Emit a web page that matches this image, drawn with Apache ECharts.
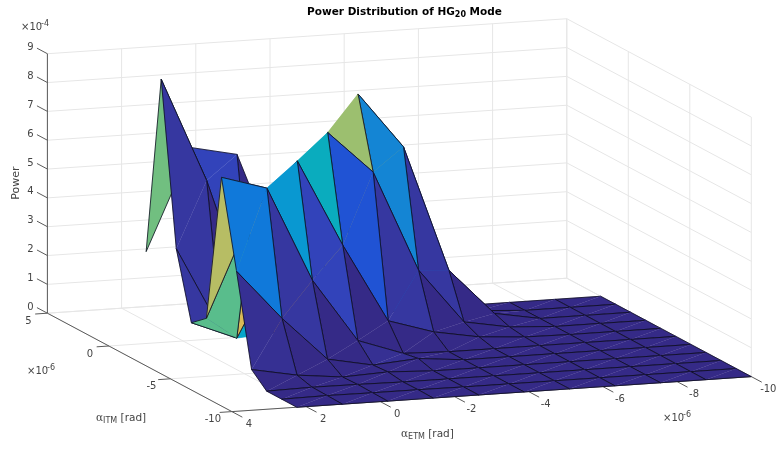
<!DOCTYPE html>
<html>
<head>
    <meta charset="UTF-8">
    <script src="https://cdn.jsdelivr.net/npm/echarts@6/dist/echarts.min.js"></script>
    <style>
        html,body{margin:0;padding:0;background:#fff;}
        #main{width:781px;height:450px;}
    </style>
</head>
<body>
<div id="main"></div>
<script>
// grid of the surface, rad x 1e-6
var etmValues = [2.25, 1.025, -0.2, -1.425, -2.65, -3.875, -5.1, -6.325, -7.55, -8.775, -10];
var itmValues = [-10, -8.775, -7.55, -6.325, -5.1, -3.875, -2.65, -1.425, -0.2, 1.025, 2.25];

// power x 1e-4, one row per etmValues entry, one column per itmValues entry
var power0 = [0, 0, 0, 0.47, 3.6, 6.58, 1.41, 0.98, 3.27, 8.87, 2.61];
var power1 = [0, 0.02, 0.03, 0.17, 1.86, 6.1, 4.95, 0.34, 0.3, 5.25, 6.11];
var power2 = [0, 0.01, 0.02, 0, 0.34, 2.8, 6.66, 3.2, 0.1, 0.6, 5.77];
var power3 = [0, 0.01, 0, 0.07, 0.03, 0.6, 3.63, 7.26, 0.3, 0.1, 1.75];
var power4 = [0, 0, 0, 0, 0.15, 0.05, 0.9, 5.78, 8.21, 0.3, 0.3];
var power5 = [0, 0, 0, 0, 0, 0, 0.41, 2.27, 6.27, 0.3, 0.1];
var power6 = [0, 0, 0, 0, 0, 0, 0.13, 0.37, 1.88, 0.1, 0];
var power7 = [0, 0, 0, 0, 0, 0, 0.02, 0.09, 0.28, 0.1, 0];
var power8 = [0, 0, 0, 0, 0, 0, 0, 0, 0, 0, 0];
var power9 = [0, 0, 0, 0, 0, 0, 0, 0, 0, 0, 0];
var power10 = [0, 0, 0, 0, 0, 0, 0, 0, 0, 0, 0];
var powerRows = [power0, power1, power2, power3, power4, power5, power6, power7, power8, power9, power10];

var etmTicks = [4, 2, 0, -2, -4, -6, -8, -10];
var itmTicks = [5, 0, -5, -10];
var powerTicks = [0, 1, 2, 3, 4, 5, 6, 7, 8, 9];

// parula colormap
var parula = [
    [0.2081,0.1663,0.5292],[0.2116,0.1898,0.5777],[0.2123,0.2138,0.6270],[0.2081,0.2386,0.6771],
    [0.1959,0.2645,0.7279],[0.1707,0.2919,0.7792],[0.1253,0.3242,0.8303],[0.0591,0.3598,0.8683],
    [0.0117,0.3875,0.8820],[0.0060,0.4086,0.8828],[0.0165,0.4266,0.8786],[0.0329,0.4430,0.8720],
    [0.0498,0.4586,0.8641],[0.0629,0.4737,0.8554],[0.0723,0.4887,0.8467],[0.0779,0.5040,0.8384],
    [0.0793,0.5200,0.8312],[0.0749,0.5375,0.8263],[0.0641,0.5570,0.8240],[0.0488,0.5772,0.8228],
    [0.0343,0.5966,0.8199],[0.0265,0.6137,0.8135],[0.0239,0.6287,0.8038],[0.0231,0.6418,0.7913],
    [0.0228,0.6535,0.7768],[0.0267,0.6642,0.7607],[0.0384,0.6743,0.7436],[0.0590,0.6838,0.7254],
    [0.0843,0.6928,0.7062],[0.1133,0.7015,0.6859],[0.1453,0.7098,0.6646],[0.1801,0.7177,0.6424],
    [0.2178,0.7250,0.6193],[0.2586,0.7317,0.5954],[0.3022,0.7376,0.5712],[0.3482,0.7424,0.5473],
    [0.3953,0.7459,0.5244],[0.4420,0.7481,0.5033],[0.4871,0.7491,0.4840],[0.5300,0.7491,0.4661],
    [0.5709,0.7485,0.4494],[0.6099,0.7473,0.4337],[0.6473,0.7456,0.4188],[0.6834,0.7435,0.4044],
    [0.7184,0.7411,0.3905],[0.7525,0.7384,0.3768],[0.7858,0.7356,0.3633],[0.8185,0.7327,0.3498],
    [0.8507,0.7299,0.3360],[0.8824,0.7274,0.3217],[0.9139,0.7258,0.3063],[0.9450,0.7261,0.2886],
    [0.9739,0.7314,0.2666],[0.9938,0.7455,0.2403],[0.9990,0.7653,0.2164],[0.9955,0.7861,0.1967],
    [0.9880,0.8066,0.1794],[0.9789,0.8271,0.1633],[0.9697,0.8481,0.1475],[0.9626,0.8705,0.1309],
    [0.9589,0.8949,0.1132],[0.9598,0.9218,0.0948],[0.9661,0.9514,0.0755],[0.9763,0.9831,0.0538]
];

var zMax = 8.87;
var edgeColor = '#0c0c20';
var gridColor = '#e6e6e6';
var axisColor = '#5a5a5a';
var textColor = '#444444';
var fontName = '"DejaVu Sans"';

// fixed view of the 3d box (orthographic), returns plot coordinates
function project(e, i, p) {
    return [
        47.4 + (4 - e) * 37.1 + (5 - i) * 12.3,
        313.2 - (4 - e) * 2.5 + (5 - i) * 6.56 - p * 28.83
    ];
}

function colorOf(p) {
    var k = Math.floor(p / zMax * parula.length);
    var c = parula[Math.max(0, Math.min(parula.length - 1, k))];
    return 'rgb(' + Math.round(c[0] * 255) + ',' + Math.round(c[1] * 255) + ',' + Math.round(c[2] * 255) + ')';
}

// walls and floor
var wallLines = [];
powerTicks.forEach(function (p) {
    wallLines.push([[4, 5, p], [-10, 5, p]]);
    wallLines.push([[-10, 5, p], [-10, -10, p]]);
});
etmTicks.forEach(function (e) {
    wallLines.push([[e, 5, 0], [e, 5, 9]]);
    wallLines.push([[e, 5, 0], [e, -10, 0]]);
});
itmTicks.forEach(function (i) {
    wallLines.push([[-10, i, 0], [-10, i, 9]]);
    wallLines.push([[4, i, 0], [-10, i, 0]]);
});

// axis lines and ticks, drawn under the surface
var axisLines = [
    [[4, 5, 0], [4, 5, 9]],
    [[4, 5, 0], [4, -10, 0]],
    [[4, -10, 0], [-10, -10, 0]]
];
powerTicks.forEach(function (p) { axisLines.push([[4, 5, p], [4, 5.85, p]]); });
itmTicks.forEach(function (i) { axisLines.push([[4, i, 0], [4.33, i, 0]]); });
etmTicks.forEach(function (e) { axisLines.push([[e, -10, 0], [e, -10.85, 0]]); });

// surface cells, back to front
var cells = [];
for (var a = etmValues.length - 2; a >= 0; a--) {
    for (var b = itmValues.length - 2; b >= 0; b--) {
        cells.push([a, b]);
    }
}

function node(api, a, b) {
    return api.coord(project(etmValues[a], itmValues[b], powerRows[a][b]));
}

function lineItem(api, seg, color, width) {
    var p1 = api.coord(project(seg[0][0], seg[0][1], seg[0][2]));
    var p2 = api.coord(project(seg[1][0], seg[1][1], seg[1][2]));
    return {
        type: 'line', silent: true,
        shape: {x1: p1[0], y1: p1[1], x2: p2[0], y2: p2[1]},
        style: {stroke: color, lineWidth: width}
    };
}

function renderWall(params, api) {
    return lineItem(api, wallLines[params.dataIndex], gridColor, 1);
}

function renderAxis(params, api) {
    return lineItem(api, axisLines[params.dataIndex], axisColor, 1);
}

function renderCell(params, api) {
    var a = cells[params.dataIndex][0], b = cells[params.dataIndex][1];
    var p00 = node(api, a, b), p10 = node(api, a + 1, b), p01 = node(api, a, b + 1), p11 = node(api, a + 1, b + 1);
    // face colour comes from the corner with the lowest ETM and ITM
    var fill = colorOf(powerRows[a + 1][b]);
    var tri = function (pts) {
        return {type: 'polygon', shape: {points: pts}, style: {fill: fill, stroke: fill, lineWidth: 0.3}};
    };
    var edges = function (pts) {
        return {type: 'polyline', shape: {points: pts}, style: {fill: 'none', stroke: edgeColor, lineWidth: 0.8}};
    };
    return {
        type: 'group',
        silent: true,
        children: [
            tri([p00, p01, p11]),
            edges([p00, p01, p11]),
            tri([p00, p10, p11]),
            edges([p00, p10, p11])
        ]
    };
}

// tick labels: [text, etm, itm, power, dx, dy]
var tickLabels = [];
powerTicks.forEach(function (p) { tickLabels.push([String(p), 4, 5, p, -17, -6]); });
itmTicks.forEach(function (i) { tickLabels.push([String(i), 4, i, 0, -19, 8]); });
etmTicks.forEach(function (e) { tickLabels.push([String(e), e, -10, 0, 17, 13]); });

function renderTickLabel(params, api) {
    var t = tickLabels[params.dataIndex];
    var pt = api.coord(project(t[1], t[2], t[3]));
    return {
        type: 'text', silent: true,
        style: {text: t[0], x: pt[0] + t[4], y: pt[1] + t[5], fill: textColor, font: '10px ' + fontName, align: 'center', verticalAlign: 'middle'}
    };
}

var labelRich = {
    g: {fill: textColor, fontFamily: '"DejaVu Serif"', fontSize: 10.5},
    n: {fill: textColor, fontFamily: fontName, fontSize: 10.5},
    s: {fill: textColor, fontFamily: fontName, fontSize: 8, padding: [5, 0, 0, 0]}
};

var chart = echarts.init(document.getElementById('main'));
chart.setOption({
    animation: false,
    title: {
        text: '{a|Power Distribution of HG}{b|20}{a| Mode}',
        left: 399.5, top: 0, textAlign: 'center',
        textStyle: {
            rich: {
                a: {fontFamily: fontName, fontWeight: 'bold', fontSize: 10.5, color: '#000', height: 14, verticalAlign: 'middle'},
                b: {fontFamily: fontName, fontWeight: 'bold', fontSize: 8, color: '#000', padding: [6, 0, 0, 0], verticalAlign: 'middle'}
            }
        }
    },
    grid: {left: 0, right: 0, top: 0, bottom: 0},
    xAxis: {type: 'value', min: 0, max: 781, show: false},
    yAxis: {type: 'value', min: 0, max: 450, inverse: true, show: false},
    graphic: [
        {type: 'text', silent: true, rotation: Math.PI / 2, x: 16, y: 183, style: {text: 'Power', fill: textColor, font: '11px ' + fontName, align: 'center', verticalAlign: 'middle'}},
        {type: 'text', silent: true, x: 21, y: 27, style: {text: '×10', fill: textColor, font: '10px ' + fontName, align: 'left', verticalAlign: 'middle'}},
        {type: 'text', silent: true, x: 41, y: 24, style: {text: '-4', fill: textColor, font: '8px ' + fontName, align: 'left', verticalAlign: 'middle'}},
        {type: 'text', silent: true, x: 27, y: 371, style: {text: '×10', fill: textColor, font: '10px ' + fontName, align: 'left', verticalAlign: 'middle'}},
        {type: 'text', silent: true, x: 47, y: 368, style: {text: '-6', fill: textColor, font: '8px ' + fontName, align: 'left', verticalAlign: 'middle'}},
        {type: 'text', silent: true, x: 663, y: 418, style: {text: '×10', fill: textColor, font: '10px ' + fontName, align: 'left', verticalAlign: 'middle'}},
        {type: 'text', silent: true, x: 683, y: 415, style: {text: '-6', fill: textColor, font: '8px ' + fontName, align: 'left', verticalAlign: 'middle'}},
        {type: 'text', silent: true, x: 96, y: 418, style: {text: '{g|α}{s|ITM}{n| [rad]}', align: 'left', verticalAlign: 'middle', rich: labelRich}},
        {type: 'text', silent: true, x: 401, y: 434, style: {text: '{g|α}{s|ETM}{n| [rad]}', align: 'left', verticalAlign: 'middle', rich: labelRich}}
    ],
    series: [
        {type: 'custom', coordinateSystem: 'cartesian2d', renderItem: renderWall, data: wallLines.map(function (d, k) { return [k, 0]; }), z: 1, clip: false},
        {type: 'custom', coordinateSystem: 'cartesian2d', renderItem: renderAxis, data: axisLines.map(function (d, k) { return [k, 0]; }), z: 2, clip: false},
        {type: 'custom', coordinateSystem: 'cartesian2d', renderItem: renderCell, data: cells.map(function (d, k) { return [k, 0]; }), z: 3, clip: false},
        {type: 'custom', coordinateSystem: 'cartesian2d', renderItem: renderTickLabel, data: tickLabels.map(function (d, k) { return [k, 0]; }), z: 4, clip: false}
    ]
});
</script>
</body>
</html>
